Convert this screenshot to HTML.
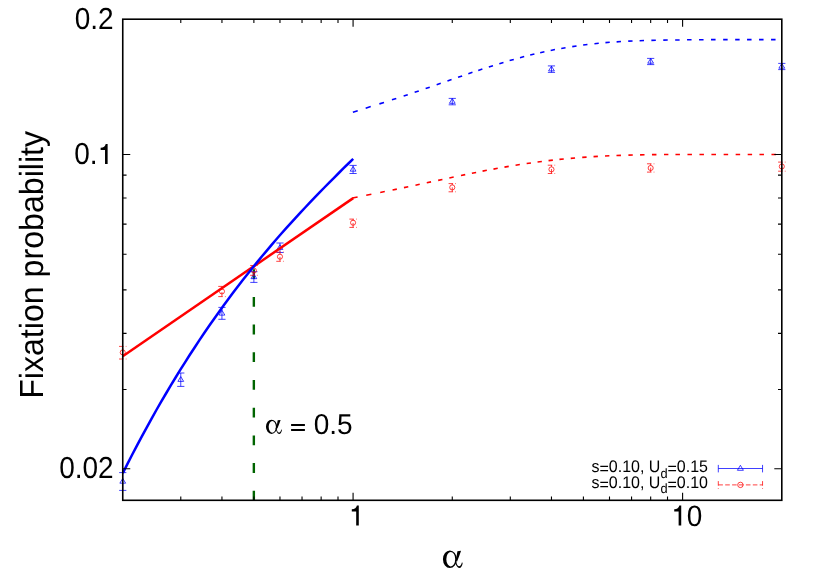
<!DOCTYPE html>
<html><head><meta charset="utf-8"><title>Fixation probability</title>
<style>html,body{margin:0;padding:0;background:#fff;}svg{display:block;will-change:transform;}</style></head>
<body>
<svg width="830" height="581" viewBox="0 0 830 581">
<rect width="830" height="581" fill="#fff"/>
<path d="M253.85 269.2V500.3" stroke="#006400" stroke-width="2.4" stroke-dasharray="9.8 17.9" fill="none"/>
<g id="data-points">
<path d="M122.75 472.60V490.40M119.15 472.60h7.2M119.15 490.40h7.2M122.75 478.40L119.85 483.20H125.65Z" stroke="#0000ff" stroke-width="0.75" fill="none"/>
<path d="M180.78 373.00V386.40M177.18 373.00h7.2M177.18 386.40h7.2M180.78 376.60L177.88 381.40H183.68Z" stroke="#0000ff" stroke-width="0.75" fill="none"/>
<path d="M221.95 307.40V319.30M218.35 307.40h7.2M218.35 319.30h7.2M221.95 310.30L219.05 315.10H224.85Z" stroke="#0000ff" stroke-width="0.75" fill="none"/>
<path d="M253.88 271.70V282.40M250.28 271.70h7.2M250.28 282.40h7.2M253.88 273.90L250.98 278.70H256.78Z" stroke="#0000ff" stroke-width="0.75" fill="none"/>
<path d="M279.97 243.00V252.50M276.37 243.00h7.2M276.37 252.50h7.2M279.97 244.65L277.07 249.45H282.87Z" stroke="#0000ff" stroke-width="0.75" fill="none"/>
<path d="M353.08 165.40V173.50M349.48 165.40h7.2M349.48 173.50h7.2M353.08 166.35L350.18 171.15H355.98Z" stroke="#0000ff" stroke-width="0.75" fill="none"/>
<path d="M452.27 98.40V104.80M448.67 98.40h7.2M448.67 104.80h7.2M452.27 98.50L449.38 103.30H455.17Z" stroke="#0000ff" stroke-width="0.75" fill="none"/>
<path d="M551.47 65.90V72.40M547.87 65.90h7.2M547.87 72.40h7.2M551.47 66.10L548.57 70.90H554.37Z" stroke="#0000ff" stroke-width="0.75" fill="none"/>
<path d="M650.67 58.40V64.60M647.07 58.40h7.2M647.07 64.60h7.2M650.67 58.40L647.77 63.20H653.57Z" stroke="#0000ff" stroke-width="0.75" fill="none"/>
<path d="M781.80 63.40V69.60M778.20 63.40h7.2M778.20 69.60h7.2M781.80 63.40L778.90 68.20H784.70Z" stroke="#0000ff" stroke-width="0.75" fill="none"/>
<path d="M122.75 359.00V346.40M119.05 346.40h7.4M119.05 359.00h7.4" stroke="#ff0000" stroke-width="0.75" stroke-dasharray="4.5 2.2" fill="none"/><circle cx="122.75" cy="352.40" r="2.55" stroke="#ff0000" stroke-width="0.75" fill="none"/>
<path d="M221.95 296.60V286.40M218.25 286.40h7.4M218.25 296.60h7.4" stroke="#ff0000" stroke-width="0.75" stroke-dasharray="4.5 2.2" fill="none"/><circle cx="221.95" cy="291.40" r="2.55" stroke="#ff0000" stroke-width="0.75" fill="none"/>
<path d="M253.88 275.30V265.50M250.18 265.50h7.4M250.18 275.30h7.4" stroke="#ff0000" stroke-width="0.75" stroke-dasharray="4.5 2.2" fill="none"/><circle cx="253.88" cy="270.60" r="2.55" stroke="#ff0000" stroke-width="0.75" fill="none"/>
<path d="M279.97 261.30V252.10M276.27 252.10h7.4M276.27 261.30h7.4" stroke="#ff0000" stroke-width="0.75" stroke-dasharray="4.5 2.2" fill="none"/><circle cx="279.97" cy="256.70" r="2.55" stroke="#ff0000" stroke-width="0.75" fill="none"/>
<path d="M353.08 227.40V219.10M349.38 219.10h7.4M349.38 227.40h7.4" stroke="#ff0000" stroke-width="0.75" stroke-dasharray="4.5 2.2" fill="none"/><circle cx="353.08" cy="222.70" r="2.55" stroke="#ff0000" stroke-width="0.75" fill="none"/>
<path d="M452.27 191.80V183.60M448.57 183.60h7.4M448.57 191.80h7.4" stroke="#ff0000" stroke-width="0.75" stroke-dasharray="4.5 2.2" fill="none"/><circle cx="452.27" cy="187.40" r="2.55" stroke="#ff0000" stroke-width="0.75" fill="none"/>
<path d="M551.47 173.50V165.20M547.77 165.20h7.4M547.77 173.50h7.4" stroke="#ff0000" stroke-width="0.75" stroke-dasharray="4.5 2.2" fill="none"/><circle cx="551.47" cy="169.40" r="2.55" stroke="#ff0000" stroke-width="0.75" fill="none"/>
<path d="M650.67 172.10V163.80M646.97 163.80h7.4M646.97 172.10h7.4" stroke="#ff0000" stroke-width="0.75" stroke-dasharray="4.5 2.2" fill="none"/><circle cx="650.67" cy="168.00" r="2.55" stroke="#ff0000" stroke-width="0.75" fill="none"/>
<path d="M781.80 171.20V162.10M778.10 162.10h7.4M778.10 171.20h7.4" stroke="#ff0000" stroke-width="0.75" stroke-dasharray="4.5 2.2" fill="none"/><circle cx="781.80" cy="166.50" r="2.55" stroke="#ff0000" stroke-width="0.75" fill="none"/>
</g>
<path d="M122.75 356.2L353.2 198.1" stroke="#ff0000" stroke-width="2.5" fill="none"/>
<polyline points="122.8,473.1 127.6,463.6 132.4,454.3 137.2,445.1 142.0,436.1 146.8,427.3 151.6,418.6 156.4,410.0 161.2,401.7 166.0,393.5 170.8,385.4 175.6,377.5 180.4,369.7 185.2,362.1 190.0,354.5 194.8,347.2 199.6,339.9 204.4,332.8 209.2,325.8 214.0,319.0 218.8,312.2 223.6,305.6 228.4,299.1 233.2,292.6 238.0,286.3 242.8,280.1 247.6,274.0 252.4,268.0 257.2,262.1 262.0,256.3 266.8,250.6 271.6,244.9 276.4,239.3 281.2,233.8 286.0,228.4 290.8,223.1 295.6,217.8 300.4,212.6 305.2,207.5 310.0,202.4 314.8,197.4 319.6,192.4 324.4,187.5 329.2,182.6 334.0,177.8 338.8,173.0 343.6,168.2 348.4,163.5 353.2,158.9" stroke="#0000ff" stroke-width="2.5" fill="none"/>
<path d="M352.88 112.35L357.72 110.77M365.67 108.22L370.73 106.61M379.38 103.87L384.02 102.39M391.93 99.85L396.28 98.44M403.64 96.02L407.76 94.65M414.64 92.34L418.76 90.94M425.64 88.58L429.76 87.16M436.65 84.77L440.75 83.33M447.45 81.00L451.55 79.57M458.04 77.31L462.16 75.89M468.34 73.76L472.46 72.36M478.24 70.42L482.36 69.06M488.83 66.96L492.97 65.64M499.32 63.66L503.48 62.40M509.61 60.60L513.79 59.41M520.00 57.70L524.20 56.59M530.19 55.06L534.41 54.03M540.18 52.69L544.42 51.75M550.67 50.44L554.93 49.59M561.26 48.42L565.54 47.67M572.25 46.59L576.55 45.95M583.14 45.05L587.46 44.51M594.44 43.72L598.76 43.28M605.43 42.67L609.77 42.32M616.62 41.83L620.97 41.55M628.23 41.16L632.57 40.96M639.59 40.69L644.01 40.55M651.37 40.35L655.83 40.26M663.27 40.13L667.73 40.07M675.17 39.99L679.63 39.95M687.05 39.80L691.55 39.80M699.05 39.70L703.55 39.70M711.03 39.65L715.57 39.65M723.15 39.65L727.65 39.65M735.17 39.65L739.63 39.65M747.05 39.65L751.55 39.65M759.05 39.65L763.55 39.65M771.05 39.65L775.55 39.65" stroke="#0000ff" stroke-width="1.6" fill="none"/>
<path d="M352.41 198.08L357.59 197.03M366.23 195.31L371.37 194.28M380.21 192.51L384.79 191.58M392.56 190.00L396.84 189.12M403.94 187.64L408.26 186.73M415.47 185.21L419.73 184.30M426.76 182.80L431.04 181.89M438.17 180.36L442.43 179.44M449.32 177.97L453.68 177.05M460.97 175.52L465.23 174.64M471.87 173.28L476.13 172.43M482.56 171.16L486.84 170.33M493.46 169.09L497.74 168.31M504.46 167.12L508.74 166.38M515.55 165.26L519.85 164.58M526.65 163.55L530.95 162.92M537.54 162.02L541.86 161.45M548.54 160.63L552.86 160.13M559.44 159.42L563.76 158.98M570.73 158.33L575.07 157.96M582.23 157.39L586.57 157.08M593.53 156.63L597.87 156.37M605.03 156.00L609.37 155.79M616.47 155.51L620.93 155.35M628.41 155.12L632.79 155.01M640.07 154.86L644.53 154.78M651.95 154.67L656.45 154.62M664.03 154.56L668.37 154.54M675.45 154.51L679.95 154.50M687.45 154.50L691.95 154.50M699.45 154.50L703.95 154.50M711.41 154.50L715.99 154.50M723.65 154.50L728.15 154.50M735.65 154.50L740.15 154.50M747.69 154.50L752.11 154.50M759.45 154.50L763.95 154.50M771.45 154.50L775.95 154.50" stroke="#ff0000" stroke-width="1.6" fill="none"/>
<path d="M180.78 500.3v-3.8M180.78 19.2v3.8M221.95 500.3v-3.8M221.95 19.2v3.8M253.88 500.3v-3.8M253.88 19.2v3.8M279.97 500.3v-3.8M279.97 19.2v3.8M302.03 500.3v-3.8M302.03 19.2v3.8M321.14 500.3v-3.8M321.14 19.2v3.8M338.00 500.3v-3.8M338.00 19.2v3.8M353.08 500.3v-7.5M353.08 19.2v7.5M452.27 500.3v-3.8M452.27 19.2v3.8M510.30 500.3v-3.8M510.30 19.2v3.8M551.47 500.3v-3.8M551.47 19.2v3.8M583.41 500.3v-3.8M583.41 19.2v3.8M609.50 500.3v-3.8M609.50 19.2v3.8M631.56 500.3v-3.8M631.56 19.2v3.8M650.67 500.3v-3.8M650.67 19.2v3.8M667.52 500.3v-3.8M667.52 19.2v3.8M682.60 500.3v-7.5M682.60 19.2v7.5M122.75 468.70h7.5M781.8 468.70h-7.5M122.75 389.55h3.8M781.8 389.55h-3.8M122.75 333.39h3.8M781.8 333.39h-3.8M122.75 289.83h3.8M781.8 289.83h-3.8M122.75 254.23h3.8M781.8 254.23h-3.8M122.75 224.14h3.8M781.8 224.14h-3.8M122.75 198.07h3.8M781.8 198.07h-3.8M122.75 175.08h3.8M781.8 175.08h-3.8M122.75 154.51h7.5M781.8 154.51h-7.5" stroke="#000" stroke-width="1.1" fill="none"/>
<rect x="122.75" y="19.2" width="659.05" height="481.10" stroke="#000" stroke-width="1.6" fill="none"/>
<path d="M718.3 468.5H762.55M718.3 464.9v7.5M762.55 464.9v7.5M740.4 465.3l-3 5h6Z" stroke="#0000ff" stroke-width="0.75" fill="none"/>
<path d="M718.3 484.9H762.55M718.3 481.1v7.6M762.55 481.1v7.6" stroke="#ff0000" stroke-width="0.75" stroke-dasharray="4.6 2.3" fill="none"/><circle cx="740.4" cy="484.9" r="2.7" stroke="#ff0000" stroke-width="0.75" fill="none"/>
<g font-family="Liberation Sans, sans-serif" fill="#000" text-rendering="geometricPrecision">
<text transform="translate(113.6,29.2) scale(1,1.085)" font-size="28" text-anchor="end">0.2</text>
<text transform="translate(97.63,164.0) scale(1,1.085)" font-size="28" text-anchor="end">0.</text>
<path d="M107.63 164.00V144.00h-1.90Q105.03 147.70 100.63 147.70v2.30H105.03V164.00Z" fill="#000"/>
<text transform="translate(113.7,478.2) scale(1,1.085)" font-size="28" text-anchor="end">0.02</text>
<path d="M358.79 525.50V505.50h-1.90Q356.19 509.20 351.79 509.20v2.30H356.19V525.50Z" fill="#000"/>
<path d="M681.23 525.50V505.50h-1.90Q678.63 509.20 674.23 509.20v2.30H678.63V525.50Z" fill="#000"/>
<text transform="translate(686.8030906788266,525.6) scale(1,1.055)" font-size="28" text-anchor="start">0</text>
<g transform="translate(429.998,539.958) scale(0.06024)" fill="#000"><path d="M330 175A115 145 0 1 0 330 465A115 145 0 1 0 330 175ZM345 200A74 120 0 1 1 345 440A74 120 0 1 1 345 200Z" fill-rule="evenodd"/><path d="M455 186L516 180C496 240 472 300 450 356L424 336C440 280 450 230 455 186ZM428 330C440 400 455 438 480 438C505 438 520 410 529 374L543 379C536 430 515 467 487 467C450 467 424 400 412 350Z"/></g>
<g transform="translate(255.459,411.211) scale(0.04880)" fill="#000"><path d="M330 175A115 145 0 1 0 330 465A115 145 0 1 0 330 175ZM345 200A74 120 0 1 1 345 440A74 120 0 1 1 345 200Z" fill-rule="evenodd"/><path d="M455 186L516 180C496 240 472 300 450 356L424 336C440 280 450 230 455 186ZM428 330C440 400 455 438 480 438C505 438 520 410 529 374L543 379C536 430 515 467 487 467C450 467 424 400 412 350Z"/></g>
<path d="M291.1 424h13.8v2.1h-13.8zM291.1 428.9h13.8v2.1h-13.8z"/>
<text transform="translate(313.7,434.0) scale(1,1.025)" font-size="28" text-anchor="start">0.5</text>
<text font-size="32" text-anchor="middle" transform="translate(42.8,264.9) rotate(-90) scale(1.004,1.045)">Fixation probability</text>
<text transform="translate(708,472.4) scale(1,1.05)" font-size="16" text-anchor="end">s<tspan dy="1.8">=</tspan><tspan dy="-1.8">0.10, U</tspan><tspan font-size="12.8" dy="5">d</tspan><tspan font-size="16" dy="-3.2">=</tspan><tspan dy="-1.8">0.15</tspan></text>
<text transform="translate(708,488.1) scale(1,1.05)" font-size="16" text-anchor="end">s<tspan dy="1.8">=</tspan><tspan dy="-1.8">0.10, U</tspan><tspan font-size="12.8" dy="5">d</tspan><tspan font-size="16" dy="-3.2">=</tspan><tspan dy="-1.8">0.10</tspan></text>
</g>
</svg>
</body></html>
